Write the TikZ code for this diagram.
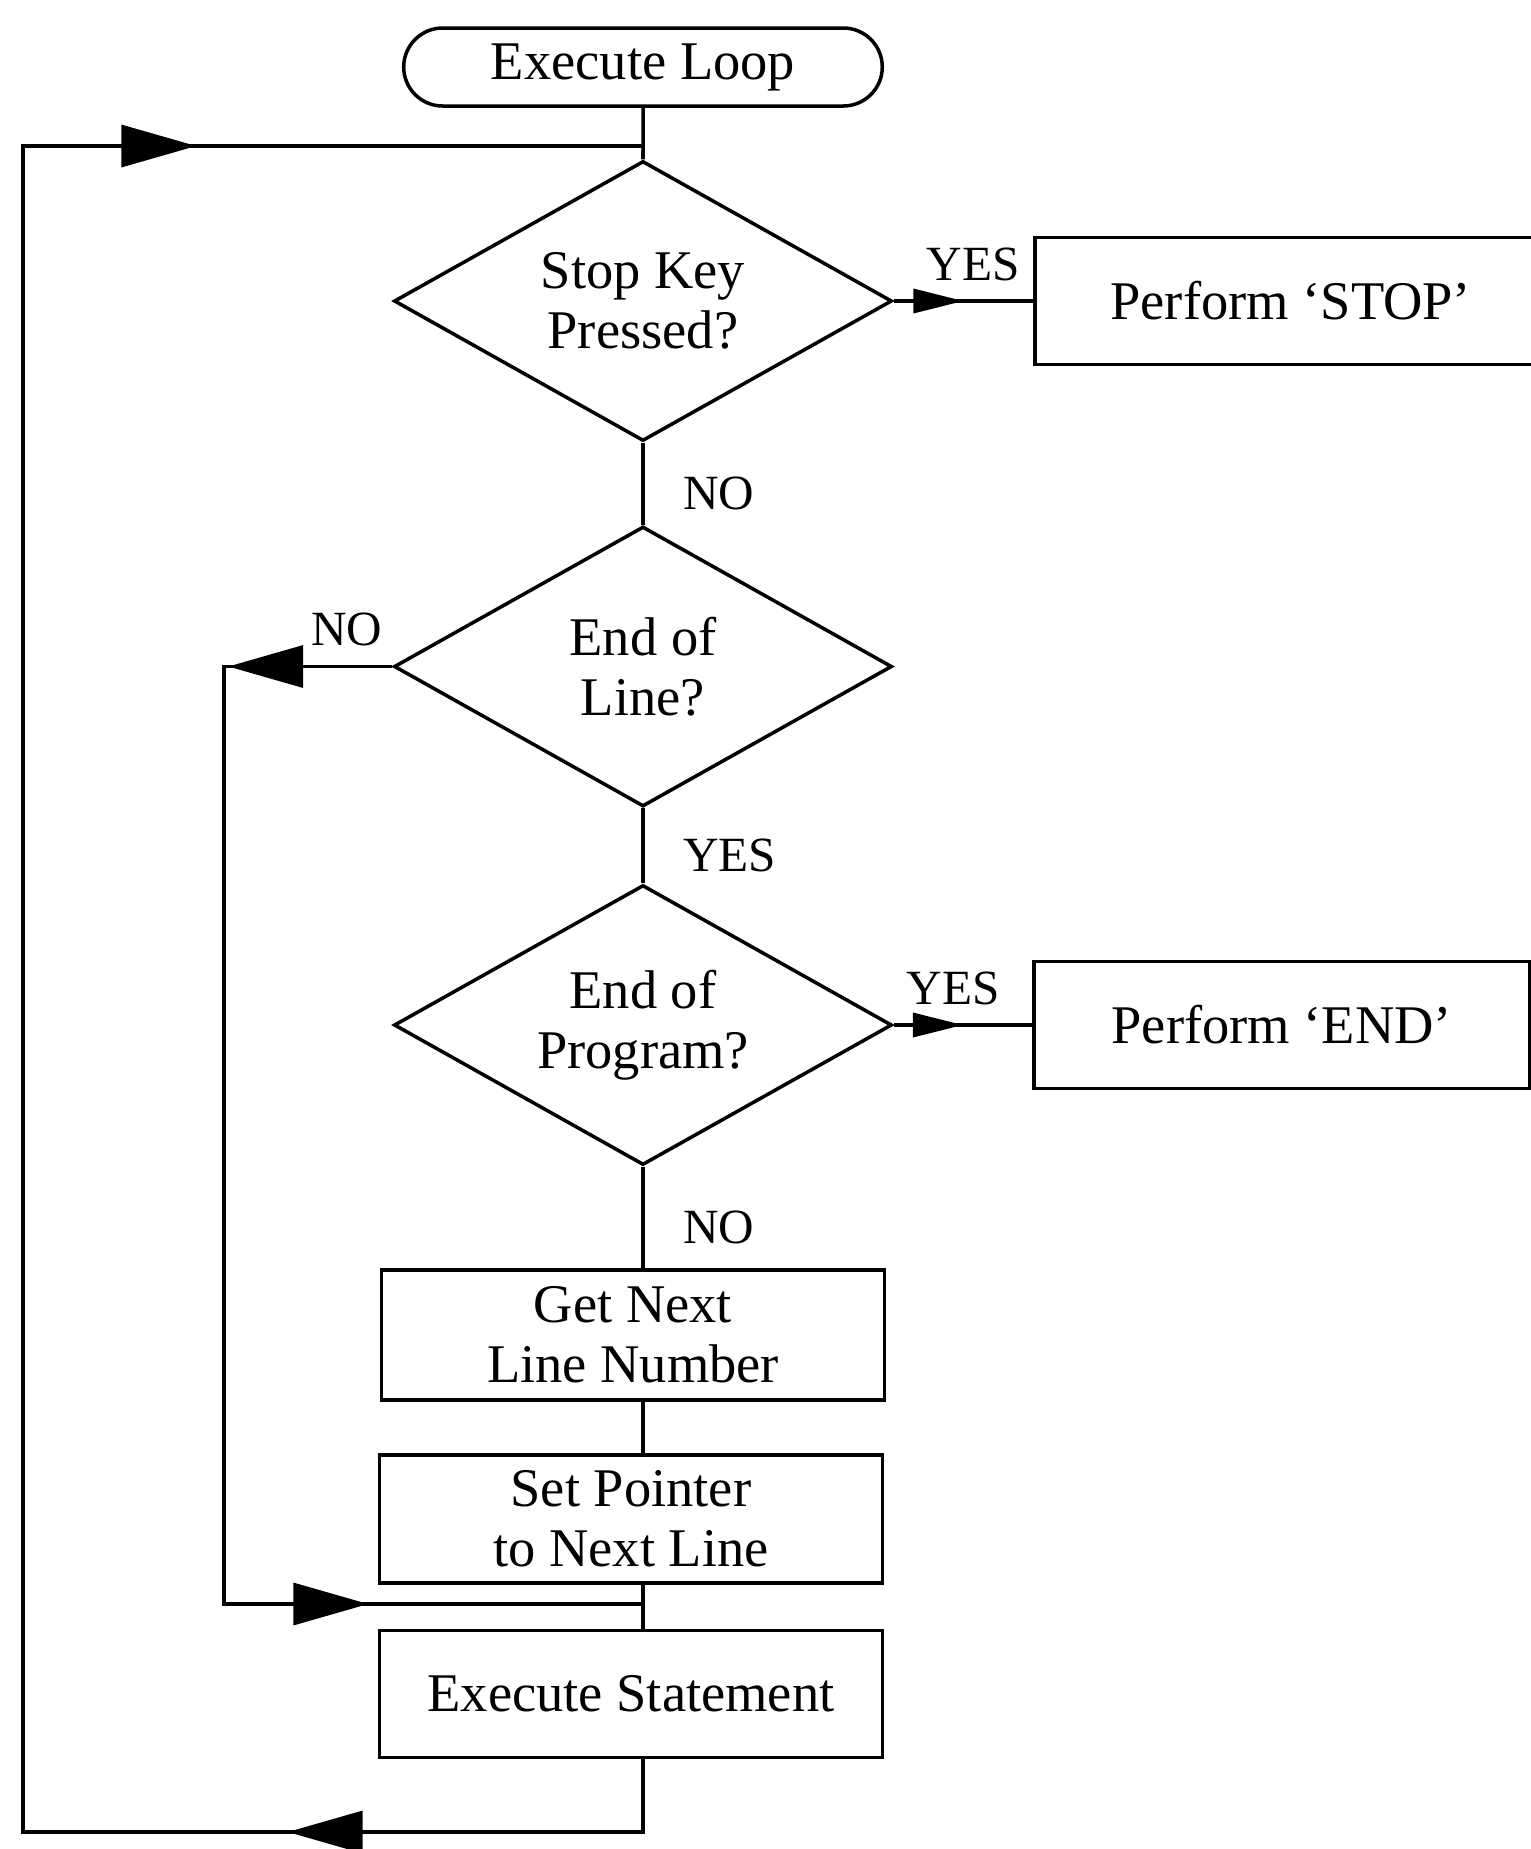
\documentclass[tikz,border=0pt]{standalone}
\usepackage{fontspec}
\setmainfont{Liberation Serif}
\usetikzlibrary{shapes.geometric,shapes.misc,arrows.meta,decorations.markings,positioning}

\tikzset{
	flow/.style={line width=1pt},
	boxfont/.style={font=\fontsize{15.5}{17}\selectfont},
	term/.style={rounded rectangle,draw,flow,boxfont,minimum width=5.02cm,minimum height=0.78cm},
	decision/.style={diamond,draw,flow,boxfont,align=center,inner sep=0pt,aspect=1.78,
		minimum width=4.98cm,minimum height=2.8cm},
	process/.style={rectangle,draw,flow,boxfont,align=center,
		minimum width=5.03cm,minimum height=1.28cm},
	answer/.style={font=\fontsize{14}{16}\selectfont,inner sep=1pt},
	bigtip/.tip={Triangle[length=7.5mm,width=4.2mm]},
	smalltip/.tip={Triangle[length=5mm,width=2.4mm]},
	yesarrow/.style={postaction={decorate},
		decoration={markings,mark=at position 0.5 with {\arrow{smalltip}}}}
}

\begin{document}
\begin{tikzpicture}
	\useasboundingbox (0,0) rectangle (15.31,-18.49);
	\clip (0,0) rectangle (15.31,-18.49);
	\fill[white] (0,0) rectangle (15.31,-18.49);
	\coordinate (spine) at (6.43,0);
	
	% main column
	\node[term] (loop) at (6.43,-0.67) {Execute Loop};
	\node[decision] (stopq) at (6.43,-3.01) {Stop Key\\Pressed?};
	\node[decision] (eolq) at (6.43,-6.665) {End of\\Line?};
	\node[decision] (eopq) at (6.43,-10.25) {End of\\Program?};
	\node[process,minimum height=1.30cm] (getnext) at (6.33,-13.35) {Get Next\\Line Number};
	\node[process] (setptr) at (6.31,-15.19) {Set Pointer\\to Next Line};
	\node[process,minimum height=1.27cm] (exec) at (6.31,-16.94) {Execute Statement};
	
	% side boxes
	\node[process,anchor=west,minimum width=5.12cm,minimum height=1.27cm] (stop)
		at (10.33,-3.01) {Perform `STOP'};
	\node[process,anchor=west,minimum width=4.96cm,minimum height=1.27cm] (endp)
		at (10.32,-10.25) {Perform `END'};
	
	\coordinate (lowleft) at (0.23,-18.32);
	\coordinate (upleft) at (0.23,-1.46);
	\coordinate (topjoin) at (6.43,-1.46);
	\coordinate (midleft) at (2.24,-6.665);
	\coordinate (join) at (6.43,-16.04);
	
	\draw[flow] (loop) -- (stopq);
	\draw[flow,yesarrow] (stopq) -- node[answer,above=1.5mm,pos=0.57]{YES} (stop);
	\draw[flow] (stopq) -- node[answer,right=3.5mm,yshift=-1mm]{NO} (eolq);
	\draw[flow] (eolq) -- node[answer,right=3.5mm,yshift=-1mm]{YES} (eopq);
	\draw[flow,yesarrow] (eopq) -- node[answer,above=1.5mm,pos=0.43]{YES} (endp);
	\draw[flow] (eopq.south) -- node[answer,right=3.5mm,yshift=-1mm]{NO} (eopq.south |- getnext.north);
	\draw[flow] (getnext.south -| spine) -- (setptr.north -| spine);
	\draw[flow] (setptr.south -| spine) -- (exec.north -| spine);
	
	% NO branch of end of line
	\draw[flow,postaction={decorate},decoration={markings,
		mark=at position 1.64cm with {\arrow{bigtip}},
		mark=at position 12.5cm with {\arrow{bigtip}}}]
		(eolq.west) -- node[answer,above=1.5mm,pos=0.27]{NO} (midleft) |- (join);
	
	% back to the top
	\draw[flow,postaction={decorate},decoration={markings,
		mark=at position 4.28cm with {\arrow{bigtip}},
		mark=at position 25.52cm with {\arrow{bigtip}}}]
		(exec.south -| spine) |- (lowleft) -- (upleft) -- (topjoin);
\end{tikzpicture}
\end{document}
